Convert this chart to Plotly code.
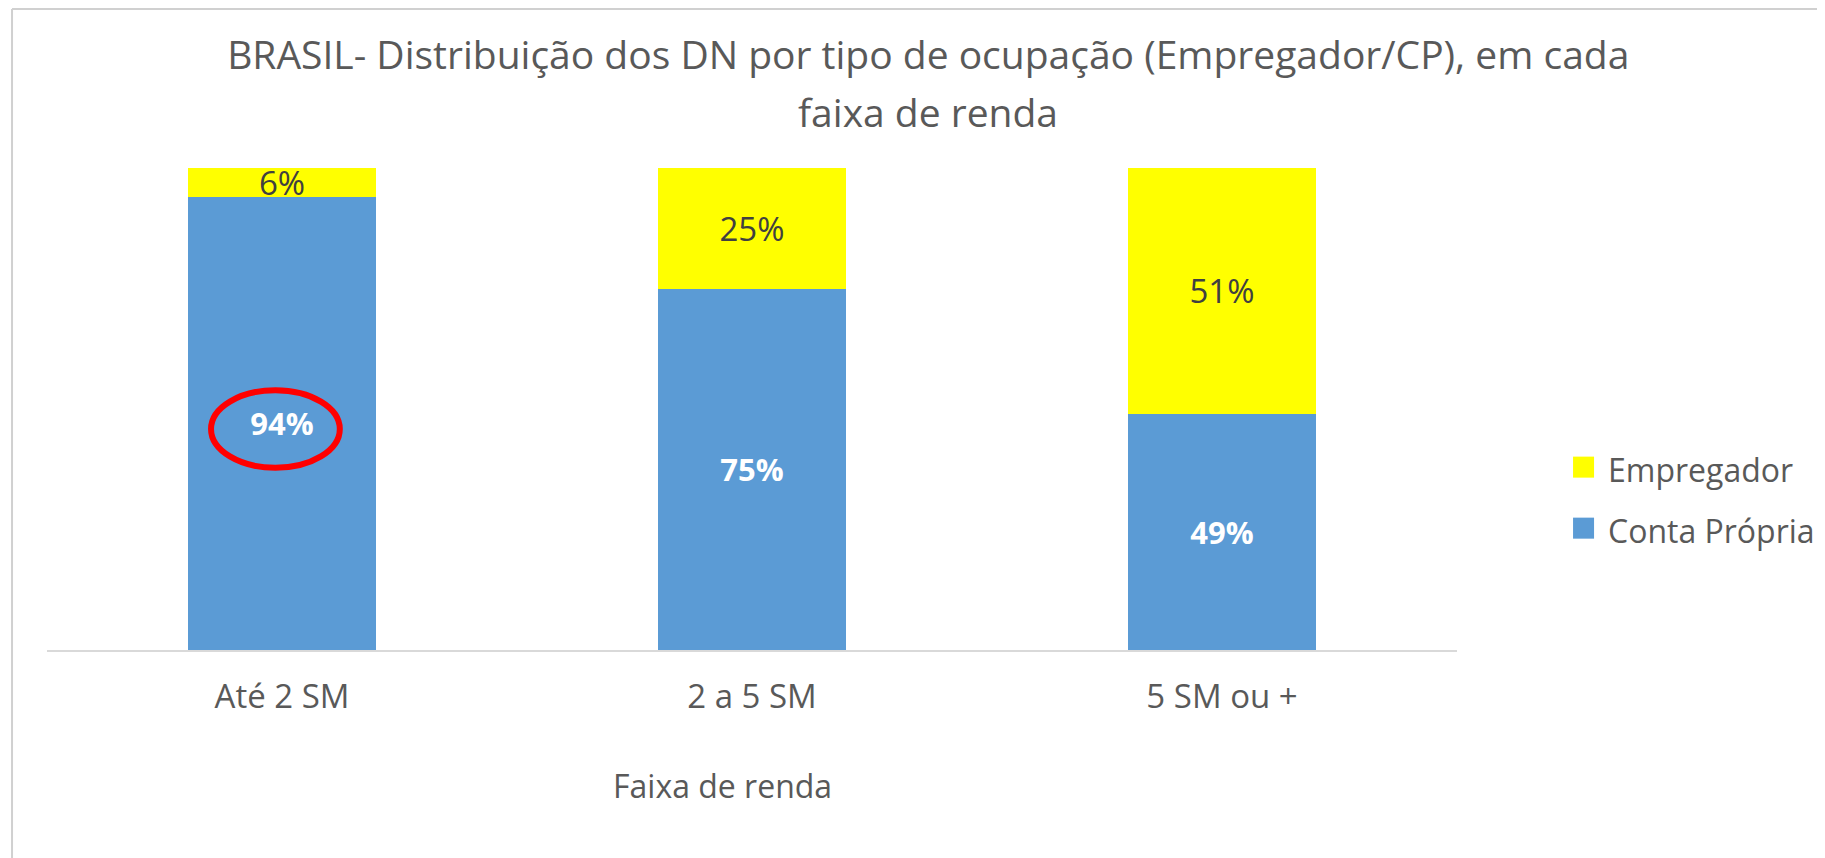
import plotly.graph_objects as go

categories = ["Até 2 SM", "2 a 5 SM", "5 SM ou +"]
conta_propria = [0.94, 0.75, 0.49]
empregador = [0.06, 0.25, 0.51]
series_names = ["Empregador", "Conta Própria"]
title_line1 = "BRASIL- Distribuição dos DN por tipo de ocupação (Empregador/CP), em cada"
title_line2 = "faixa de renda"
xaxis_title = "Faixa de renda"

FONT = "Open Sans"
GRAY = "#595959"
BLUE = "#5B9BD5"
YELLOW = "#FFFF00"

fig = go.Figure()
fig.add_trace(go.Bar(
    x=categories, y=conta_propria, name=series_names[1],
    marker=dict(color=BLUE, line=dict(width=0)),
    text=[f"{v:.0%}" for v in conta_propria], texttemplate="<b>%{text}</b>",
    textposition="inside", insidetextanchor="middle",
    textfont=dict(family=FONT, size=31, color="white"),
    showlegend=False, hoverinfo="skip",
))
fig.add_trace(go.Bar(
    x=categories, y=empregador, name=series_names[0],
    marker=dict(color=YELLOW, line=dict(width=0)),
    text=[f"{v:.0%}" for v in empregador], texttemplate="%{text}",
    textposition="inside", insidetextanchor="middle",
    textfont=dict(family=FONT, size=33, color="#404040"),
    constraintext="none",
    showlegend=False, hoverinfo="skip",
))

# red ellipse highlighting the first category's label
fig.add_shape(type="circle", xref="x", yref="y",
              x0=-0.151, x1=0.123, y0=0.378, y1=0.539,
              line=dict(color="#FF0000", width=6), layer="above")

# chart frame (left and top)
fig.add_shape(type="line", xref="paper", yref="paper",
              x0=-0.0248, x1=-0.0248, y0=-0.5, y1=1.33,
              line=dict(color="#D0D0D0", width=2))
fig.add_shape(type="line", xref="paper", yref="paper",
              x0=-0.0248, x1=1.3, y0=1.33, y1=1.33,
              line=dict(color="#D0D0D0", width=2))

# manual legend (larger square swatches, as in the reference)
legend_colors = [YELLOW, BLUE]
legend_y = [0.3794, 0.2528]
for name, col, yc in zip(series_names, legend_colors, legend_y):
    fig.add_shape(type="rect", xref="paper", yref="paper",
                  x0=1.0823, x1=1.0972, y0=yc - 0.0218, y1=yc + 0.0218,
                  fillcolor=col, line=dict(width=0))
    fig.add_annotation(xref="paper", yref="paper", x=1.1055, y=yc - 0.004,
                       xanchor="left", yanchor="middle", text=name, showarrow=False,
                       font=dict(family=FONT, size=32, color=GRAY))

# second title line (Excel-style wider line spacing)
fig.add_annotation(xref="paper", yref="paper", x=0.625, y=(642 - 104) / 482,
                   xanchor="center", yanchor="middle", text=title_line2, showarrow=False,
                   font=dict(family=FONT, size=39, color=GRAY))

# x-axis title (offset to the left as in the reference)
fig.add_annotation(xref="paper", yref="paper", x=0.4794, y=-0.282,
                   xanchor="center", yanchor="middle", text=xaxis_title, showarrow=False,
                   font=dict(family=FONT, size=32, color=GRAY))

fig.update_layout(
    width=1825, height=858,
    barmode="stack", bargap=0.6,
    paper_bgcolor="white", plot_bgcolor="white",
    margin=dict(l=39, r=376, t=160, b=216),
    font=dict(family=FONT, color=GRAY),
    showlegend=False,
    title=dict(text=title_line1, x=0.625, xref="paper", xanchor="center",
               y=1 - 47 / 858, yref="container", yanchor="middle",
               font=dict(family=FONT, size=39, color=GRAY)),
    xaxis=dict(showline=True, linecolor="#D9D9D9", linewidth=2,
               ticks="outside", ticklen=16, tickcolor="rgba(0,0,0,0)",
               tickfont=dict(family=FONT, size=33, color=GRAY),
               showgrid=False, zeroline=False),
    yaxis=dict(range=[0, 1], visible=False, showgrid=False, zeroline=False),
)

fig.write_html("out.html")
